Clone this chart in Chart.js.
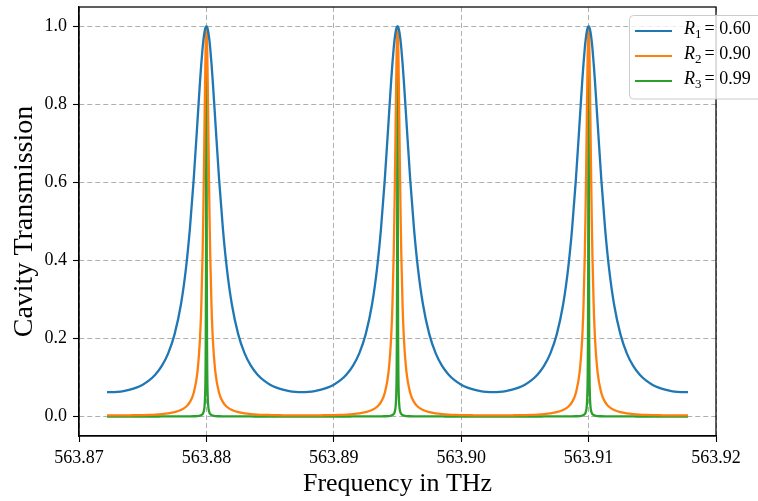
<!DOCTYPE html>
<html>
<head>
<meta charset="utf-8">
<script src="https://cdn.jsdelivr.net/npm/chart.js@4.4.1/dist/chart.umd.min.js"></script>
<style>
  html, body { margin: 0; padding: 0; background: #ffffff; }
  canvas { display: block; }
</style>
</head>
<body>
<canvas id="c" width="758" height="501"></canvas>
<script>
// ---- Data ----
// Resonance centres (THz)
const peakFreqs = [563.880, 563.895, 563.910];
// Detuning from a resonance centre (THz), one side of a peak (peaks are symmetric)
const offsets = [0, 0.00001, 0.00002, 0.00003, 0.00005, 0.00007, 0.0001, 0.00015, 0.0002, 0.00025,
                 0.0003, 0.0004, 0.0005, 0.0007, 0.001, 0.0013, 0.0016, 0.002, 0.0025, 0.003,
                 0.0035, 0.004, 0.0045, 0.005, 0.0055, 0.006, 0.0065, 0.007, 0.0075];
// Transmission read at those detunings
const transR1 = [1.0, 0.9999, 0.9997, 0.9994, 0.9984, 0.9968, 0.9935, 0.9854, 0.9744, 0.9605,
                 0.9442, 0.9050, 0.8592, 0.7575, 0.6067, 0.4797, 0.3813, 0.2872, 0.2105, 0.1618,
                 0.1296, 0.1077, 0.0924, 0.0816, 0.0740, 0.0687, 0.0651, 0.0632, 0.0625];
const transR2 = [1.0, 0.9984, 0.9937, 0.9860, 0.9620, 0.9282, 0.8636, 0.7379, 0.6130, 0.5035,
                 0.4133, 0.2840, 0.2027, 0.1152, 0.0604, 0.0370, 0.0250, 0.0165, 0.0110, 0.0080,
                 0.0062, 0.0050, 0.0042, 0.0037, 0.0033, 0.0031, 0.0029, 0.0028, 0.0028];
const transR3 = [1.0, 0.852, 0.590, 0.390, 0.187, 0.105, 0.0544, 0.0250, 0.0142, 0.0091,
                 0.0064, 0.0036, 0.0023, 0.0012, 0.0006, 0.0003, 0.0002, 0.0002, 0.0001, 0.0001,
                 0.0001, 0, 0, 0, 0, 0, 0, 0, 0];
// Ends of the plotted frequency sweep and the values there
const endFreqs = [563.8722, 563.9178];
const endR1 = [0.0627, 0.0627];
const endR2 = [0.0028, 0.0028];
const endR3 = [0, 0];
// Legend / tick labels
const seriesNames = ["1", "2", "3"];
const seriesValues = ["0.60", "0.90", "0.99"];
const xTicks = [563.87, 563.88, 563.89, 563.90, 563.91, 563.92];
const yTicks = [0.0, 0.2, 0.4, 0.6, 0.8, 1.0];
const colors = ["#1f77b4", "#ff7f0e", "#2ca02c"];
const FONT = "'Liberation Serif', 'Times New Roman', serif";

function buildSeries(profile, ends) {
  const pts = [{x: endFreqs[0], y: ends[0]}];
  peakFreqs.forEach((c, i) => {
    const last = offsets.length - 1;
    const startK = (i === 0) ? last : last - 1; // midpoint shared with previous peak
    for (let k = startK; k > 0; k--) pts.push({x: c - offsets[k], y: profile[k]});
    for (let k = 0; k <= last; k++) pts.push({x: c + offsets[k], y: profile[k]});
  });
  pts.push({x: endFreqs[1], y: ends[1]});
  return pts;
}

const framePlugin = {
  id: 'frame',
  afterDatasetsDraw(chart) {
    const {ctx, chartArea: a} = chart;
    ctx.save();
    ctx.strokeStyle = '#000';
    ctx.lineWidth = 1.25;
    ctx.strokeRect(a.left, a.top, a.right - a.left, a.bottom - a.top);
    ctx.restore();
  },
  afterDraw(chart) {
    const {ctx, chartArea: a} = chart;
    ctx.save();
    // axis titles
    ctx.fillStyle = '#000';
    ctx.textAlign = 'center';
    ctx.textBaseline = 'alphabetic';
    ctx.font = "26px " + FONT;
    ctx.fillText('Frequency in THz', (a.left + a.right) / 2, 491);
    ctx.save();
    ctx.translate(32, (a.top + a.bottom) / 2);
    ctx.rotate(-Math.PI / 2);
    ctx.font = "28px " + FONT;
    ctx.fillText('Cavity Transmission', 0, 0);
    ctx.restore();

    // legend
    const bx = 629.5, by = 15.5, bw = 140, bh = 83.5, r = 4;
    ctx.beginPath();
    ctx.moveTo(bx + r, by);
    ctx.lineTo(bx + bw - r, by);
    ctx.arcTo(bx + bw, by, bx + bw, by + r, r);
    ctx.lineTo(bx + bw, by + bh - r);
    ctx.arcTo(bx + bw, by + bh, bx + bw - r, by + bh, r);
    ctx.lineTo(bx + r, by + bh);
    ctx.arcTo(bx, by + bh, bx, by + bh - r, r);
    ctx.lineTo(bx, by + r);
    ctx.arcTo(bx, by, bx + r, by, r);
    ctx.closePath();
    ctx.fillStyle = 'rgba(255,255,255,0.8)';
    ctx.fill();
    ctx.strokeStyle = '#cccccc';
    ctx.lineWidth = 1;
    ctx.stroke();

    const rows = [31, 56, 81];
    ctx.textAlign = 'left';
    rows.forEach((ry, i) => {
      ctx.strokeStyle = colors[i];
      ctx.lineWidth = 2.2;
      ctx.beginPath();
      ctx.moveTo(635, ry);
      ctx.lineTo(672, ry);
      ctx.stroke();
      ctx.fillStyle = '#000';
      let x = 684;
      const base = ry + 3;
      ctx.font = "italic 18px " + FONT;
      ctx.fillText('R', x, base);
      x += ctx.measureText('R').width;
      ctx.font = "13px " + FONT;
      ctx.fillText(seriesNames[i], x, base + 4);
      x += ctx.measureText(seriesNames[i]).width + 3;
      ctx.font = "18px " + FONT;
      ctx.fillText('= ' + seriesValues[i], x, base);
    });
    ctx.restore();
  }
};

const gridCommon = {
  color: '#b0b0b0',
  lineWidth: 1,
  tickColor: '#000',
  tickLength: 6,
  tickWidth: 1.1,
  tickBorderDash: []
};

new Chart(document.getElementById('c'), {
  type: 'line',
  data: {
    datasets: [
      {label: 'R1 = 0.60', data: buildSeries(transR1, endR1), borderColor: colors[0]},
      {label: 'R2 = 0.90', data: buildSeries(transR2, endR2), borderColor: colors[1]},
      {label: 'R3 = 0.99', data: buildSeries(transR3, endR3), borderColor: colors[2]}
    ]
  },
  options: {
    responsive: false,
    animation: false,
    devicePixelRatio: 1,
    parsing: false,
    layout: {padding: {top: 7, right: 42, left: 0, bottom: 0}},
    plugins: {legend: {display: false}, tooltip: {enabled: false}},
    elements: {
      point: {radius: 0},
      line: {borderWidth: 2.3, cubicInterpolationMode: 'monotone', borderJoinStyle: 'round', fill: false}
    },
    scales: {
      x: {
        type: 'linear',
        min: 563.87,
        max: 563.92,
        afterBuildTicks: s => { s.ticks = xTicks.map(v => ({value: v})); },
        afterFit: s => { s.height = 65; s.paddingLeft = 0; s.paddingRight = 0; },
        ticks: {
          callback: v => Number(v).toFixed(2),
          font: {family: FONT, size: 18},
          color: '#000',
          padding: 5,
          maxRotation: 0,
          autoSkip: false
        },
        grid: gridCommon,
        border: {display: true, color: '#000', width: 1.25, dash: [5, 3]}
      },
      y: {
        type: 'linear',
        min: -0.05,
        max: 1.05,
        afterBuildTicks: s => { s.ticks = yTicks.map(v => ({value: v})); },
        afterFit: s => { s.width = 79; s.paddingTop = 0; s.paddingBottom = 0; },
        ticks: {
          callback: v => Number(v).toFixed(1),
          font: {family: FONT, size: 18},
          color: '#000',
          padding: 6,
          autoSkip: false
        },
        grid: gridCommon,
        border: {display: true, color: '#000', width: 1.25, dash: [5, 3]}
      }
    }
  },
  plugins: [framePlugin]
});
</script>
</body>
</html>
